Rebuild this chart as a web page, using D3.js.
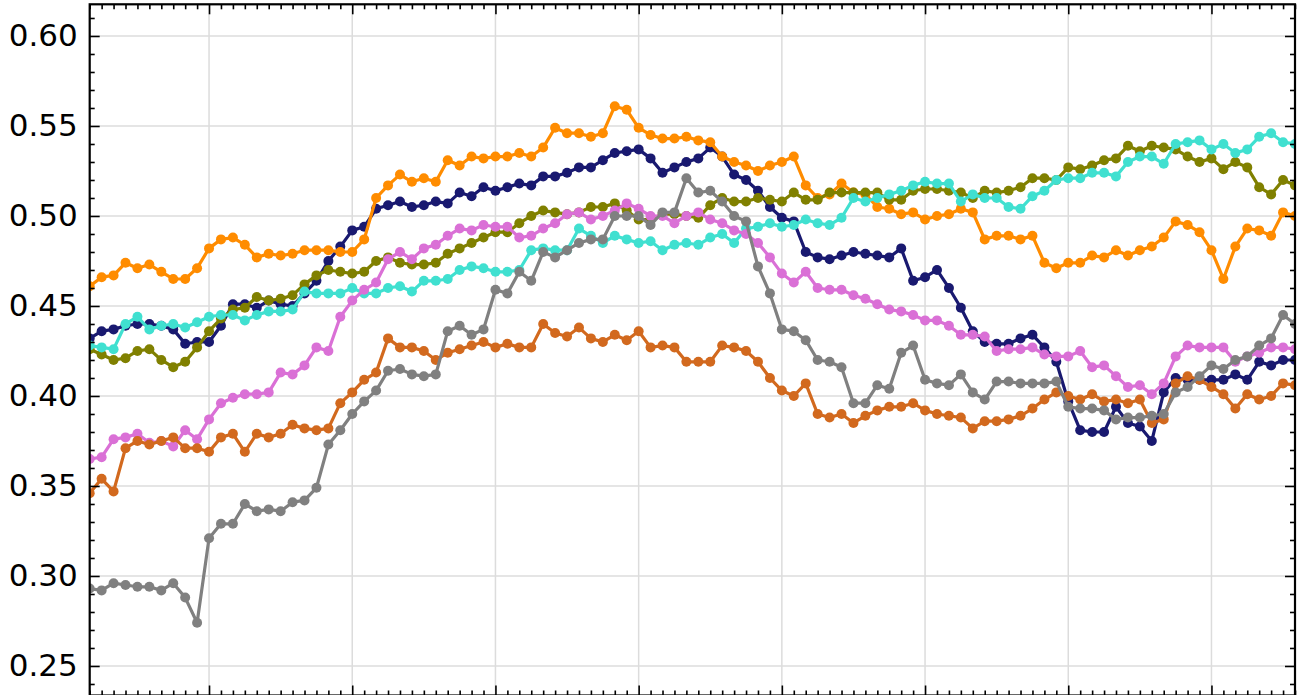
<!DOCTYPE html>
<html>
<head>
  <meta charset="utf-8">
  <title>Seven series</title>
  <script src="https://d3js.org/d3.v7.min.js"></script>
  <style>
    body { margin: 0; background: #fff; }
    .grid line { stroke: #dcdcdc; stroke-width: 1.5px; }
    .tick line { stroke: #000; stroke-width: 1.6px; }
    .domain { display: none; }
    .ylab text { font-family: "DejaVu Sans", sans-serif; font-size: 31px; fill: #000; }
  </style>
</head>
<body>
<script>
  // Data (one value per step, 102 steps)
  var navy = [0.432,0.436,0.437,0.439,0.440,0.440,0.439,0.437,0.429,0.430,0.430,0.439,0.451,0.451,0.449,0.453,0.451,0.450,0.457,0.464,
    0.475,0.483,0.492,0.494,0.504,0.506,0.508,0.505,0.506,0.508,0.507,0.513,0.511,0.516,0.514,0.516,0.518,0.517,0.522,0.522,
    0.524,0.527,0.527,0.531,0.535,0.536,0.537,0.532,0.524,0.527,0.530,0.532,0.538,0.533,0.523,0.520,0.514,0.505,0.499,0.497,
    0.480,0.477,0.476,0.478,0.480,0.479,0.478,0.477,0.482,0.464,0.466,0.470,0.460,0.449,0.436,0.430,0.429,0.429,0.432,0.434,
    0.427,0.419,0.397,0.381,0.380,0.380,0.394,0.385,0.383,0.375,0.402,0.410,0.409,0.409,0.409,0.409,0.412,0.409,0.419,0.417,
    0.420,0.420];
  var orange = [0.461,0.466,0.467,0.474,0.471,0.473,0.469,0.465,0.465,0.471,0.482,0.487,0.488,0.484,0.477,0.479,0.478,0.479,0.481,0.481,
    0.481,0.480,0.480,0.487,0.510,0.517,0.523,0.519,0.521,0.519,0.531,0.528,0.533,0.532,0.533,0.533,0.535,0.533,0.538,0.549,
    0.546,0.546,0.544,0.546,0.561,0.559,0.549,0.545,0.543,0.543,0.544,0.542,0.541,0.533,0.530,0.528,0.525,0.528,0.530,0.533,
    0.517,0.510,0.512,0.518,0.513,0.512,0.505,0.504,0.501,0.502,0.498,0.500,0.501,0.504,0.502,0.487,0.489,0.489,0.487,0.489,
    0.474,0.471,0.474,0.474,0.478,0.477,0.481,0.478,0.481,0.483,0.488,0.497,0.495,0.491,0.481,0.465,0.483,0.493,0.492,0.489,
    0.502,0.500];
  var olive = [0.426,0.423,0.420,0.421,0.425,0.426,0.420,0.416,0.419,0.427,0.436,0.443,0.448,0.449,0.455,0.453,0.454,0.456,0.462,0.467,
    0.470,0.469,0.468,0.469,0.475,0.477,0.474,0.473,0.473,0.474,0.479,0.482,0.485,0.488,0.491,0.491,0.496,0.500,0.503,0.502,
    0.501,0.502,0.505,0.505,0.507,0.503,0.498,0.498,0.501,0.501,0.500,0.499,0.506,0.510,0.508,0.508,0.510,0.509,0.508,0.513,
    0.509,0.509,0.513,0.513,0.513,0.513,0.513,0.509,0.509,0.514,0.515,0.515,0.514,0.513,0.510,0.514,0.513,0.514,0.516,0.521,
    0.521,0.520,0.527,0.526,0.528,0.531,0.532,0.539,0.536,0.539,0.538,0.537,0.533,0.530,0.532,0.526,0.530,0.527,0.516,0.512,
    0.520,0.517];
  var turquoise = [0.428,0.427,0.426,0.440,0.444,0.437,0.439,0.440,0.438,0.441,0.444,0.445,0.445,0.442,0.445,0.447,0.447,0.448,0.458,0.457,
    0.457,0.457,0.460,0.457,0.457,0.460,0.461,0.458,0.464,0.464,0.465,0.470,0.472,0.471,0.469,0.469,0.470,0.481,0.482,0.481,
    0.481,0.493,0.489,0.485,0.489,0.487,0.485,0.486,0.481,0.484,0.485,0.484,0.488,0.490,0.485,0.493,0.494,0.496,0.494,0.495,
    0.498,0.496,0.495,0.499,0.510,0.508,0.510,0.512,0.514,0.517,0.519,0.518,0.518,0.508,0.512,0.510,0.510,0.505,0.504,0.511,
    0.514,0.520,0.521,0.521,0.524,0.524,0.522,0.530,0.533,0.533,0.529,0.540,0.541,0.542,0.537,0.540,0.535,0.537,0.544,0.546,
    0.541,0.540];
  var orchid = [0.365,0.366,0.376,0.377,0.379,0.374,0.375,0.372,0.381,0.376,0.387,0.396,0.399,0.401,0.401,0.402,0.413,0.412,0.417,0.427,
    0.425,0.444,0.453,0.459,0.463,0.476,0.480,0.476,0.482,0.484,0.489,0.493,0.492,0.495,0.494,0.494,0.488,0.489,0.493,0.496,
    0.501,0.502,0.498,0.500,0.503,0.507,0.504,0.500,0.500,0.496,0.500,0.502,0.498,0.496,0.492,0.490,0.485,0.477,0.468,0.463,
    0.469,0.460,0.459,0.459,0.456,0.454,0.451,0.448,0.447,0.445,0.442,0.442,0.439,0.434,0.434,0.433,0.425,0.426,0.426,0.427,
    0.423,0.422,0.422,0.425,0.416,0.417,0.411,0.405,0.406,0.401,0.407,0.422,0.428,0.427,0.427,0.427,0.419,0.422,0.424,0.427,
    0.427,0.426];
  var chocolate = [0.346,0.354,0.347,0.371,0.375,0.373,0.375,0.377,0.371,0.371,0.369,0.377,0.379,0.369,0.379,0.377,0.379,0.384,0.382,0.381,
    0.382,0.396,0.402,0.409,0.413,0.432,0.427,0.427,0.425,0.420,0.424,0.426,0.428,0.430,0.427,0.429,0.427,0.427,0.440,0.435,
    0.433,0.438,0.432,0.430,0.434,0.431,0.436,0.427,0.428,0.427,0.419,0.419,0.419,0.428,0.427,0.425,0.419,0.410,0.403,0.400,
    0.407,0.390,0.388,0.390,0.385,0.389,0.392,0.394,0.394,0.396,0.392,0.390,0.389,0.388,0.382,0.386,0.386,0.387,0.389,0.393,
    0.398,0.402,0.400,0.398,0.401,0.397,0.398,0.396,0.398,0.385,0.387,0.407,0.411,0.409,0.405,0.401,0.393,0.401,0.398,0.400,
    0.407,0.406];
  var gray = [0.293,0.292,0.296,0.295,0.294,0.294,0.292,0.296,0.288,0.274,0.321,0.329,0.329,0.340,0.336,0.337,0.336,0.341,0.342,0.349,
    0.373,0.381,0.390,0.397,0.403,0.414,0.415,0.412,0.411,0.412,0.436,0.439,0.434,0.437,0.459,0.457,0.469,0.464,0.480,0.477,
    0.481,0.485,0.487,0.487,0.500,0.500,0.500,0.495,0.502,0.502,0.521,0.513,0.514,0.508,0.500,0.497,0.472,0.457,0.437,0.436,
    0.431,0.420,0.419,0.416,0.396,0.396,0.406,0.404,0.424,0.428,0.409,0.407,0.406,0.412,0.402,0.398,0.408,0.408,0.407,0.407,
    0.407,0.408,0.394,0.393,0.393,0.392,0.387,0.388,0.388,0.389,0.390,0.402,0.405,0.411,0.417,0.415,0.420,0.422,0.428,0.432,
    0.445,0.440];

  var seriesNames = ["navy", "orange", "olive", "turquoise", "orchid", "chocolate", "gray"];
  var seriesColors = ["#191970", "#ff8c00", "#808000", "#40e0d0", "#da70d6", "#d2691e", "#808080"];
  var seriesValues = [navy, orange, olive, turquoise, orchid, chocolate, gray];

  var yMajor = [0.25, 0.30, 0.35, 0.40, 0.45, 0.50, 0.55, 0.60];
  var xMajor = [10, 22, 34, 46, 58, 70, 82, 94];

  // Layout
  var W = 1300, H = 695;
  var box = {left: 89.7, right: 1295, top: 4.3, bottom: 695.5};

  var svg = d3.select("body").append("svg")
      .attr("width", W)
      .attr("height", H);

  var x = d3.scaleLinear().domain([0, navy.length - 1]).range([box.left, box.right]);
  var y = d3.scaleLinear().domain([0.2336, 0.6176]).range([box.bottom, box.top]);

  var xMinor = d3.range(0, navy.length).filter(function(i) { return xMajor.indexOf(i) < 0; });
  var yMinor = d3.range(24, 62).map(function(k) { return k / 100; })
      .filter(function(v) { return yMajor.every(function(m) { return Math.abs(m - v) > 1e-6; }); });

  // Grid
  var grid = svg.append("g").attr("class", "grid");
  grid.selectAll(".gx").data(xMajor).enter().append("line")
      .attr("x1", function(d) { return x(d); }).attr("x2", function(d) { return x(d); })
      .attr("y1", box.top).attr("y2", box.bottom);
  grid.selectAll(".gy").data(yMajor).enter().append("line")
      .attr("x1", box.left).attr("x2", box.right)
      .attr("y1", function(d) { return y(d); }).attr("y2", function(d) { return y(d); });

  // Clip
  svg.append("clipPath").attr("id", "plot")
    .append("rect")
      .attr("x", box.left).attr("y", box.top)
      .attr("width", box.right - box.left).attr("height", box.bottom - box.top);

  var line = d3.line()
      .x(function(d, i) { return x(i); })
      .y(function(d) { return y(d); });

  var plot = svg.append("g").attr("clip-path", "url(#plot)");

  var series = plot.selectAll(".series")
      .data(seriesValues)
      .enter().append("g")
      .attr("class", "series");

  series.append("path")
      .attr("d", function(d) { return line(d); })
      .style("fill", "none")
      .style("stroke-width", "3.2px")
      .style("stroke-linejoin", "round")
      .style("stroke", function(d, k) { return seriesColors[k]; });

  series.each(function(vals, k) {
    d3.select(this).selectAll("circle")
        .data(vals)
        .enter().append("circle")
        .attr("cx", function(d, i) { return x(i); })
        .attr("cy", function(d) { return y(d); })
        .attr("r", 5)
        .style("fill", seriesColors[k]);
  });

  // Axes (ticks pointing inward on all sides)
  svg.append("g").attr("class", "ylab")
      .attr("transform", "translate(" + box.left + ",0)")
      .call(d3.axisLeft(y).tickValues(yMajor).tickSize(-10).tickPadding(12).tickFormat(d3.format(".2f")));
  svg.append("g")
      .attr("transform", "translate(" + box.left + ",0)")
      .call(d3.axisLeft(y).tickValues(yMinor).tickSize(-5).tickFormat(""));
  svg.append("g")
      .attr("transform", "translate(" + box.right + ",0)")
      .call(d3.axisRight(y).tickValues(yMajor).tickSize(-10).tickFormat(""));
  svg.append("g")
      .attr("transform", "translate(" + box.right + ",0)")
      .call(d3.axisRight(y).tickValues(yMinor).tickSize(-5).tickFormat(""));
  svg.append("g")
      .attr("transform", "translate(0," + box.bottom + ")")
      .call(d3.axisBottom(x).tickValues(xMajor).tickSize(-10).tickFormat(""));
  svg.append("g")
      .attr("transform", "translate(0," + box.bottom + ")")
      .call(d3.axisBottom(x).tickValues(xMinor).tickSize(-5).tickFormat(""));
  svg.append("g")
      .attr("transform", "translate(0," + box.top + ")")
      .call(d3.axisTop(x).tickValues(xMajor).tickSize(-10).tickFormat(""));
  svg.append("g")
      .attr("transform", "translate(0," + box.top + ")")
      .call(d3.axisTop(x).tickValues(xMinor).tickSize(-5).tickFormat(""));

  // Frame
  svg.append("rect")
      .attr("x", box.left).attr("y", box.top)
      .attr("width", box.right - box.left).attr("height", box.bottom - box.top)
      .style("fill", "none").style("stroke", "#000").style("stroke-width", 2.2);
</script>
</body>
</html>
